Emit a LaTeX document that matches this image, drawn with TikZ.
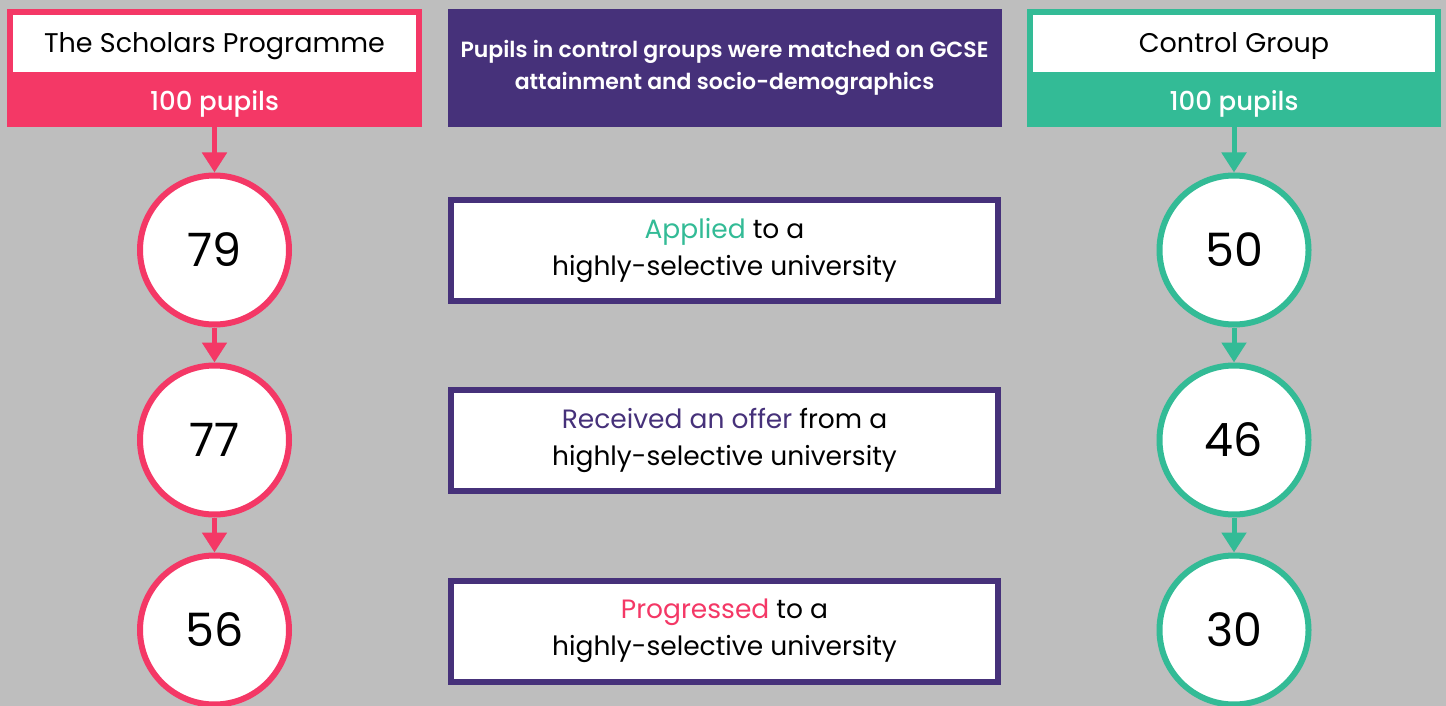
\documentclass[tikz,border=0pt]{standalone}
\usepackage{fontspec}
\setmainfont{Poppins}
\newfontfamily\semibold{Poppins SemiBold}
\newfontfamily\medium{Poppins Medium}
\usetikzlibrary{arrows.meta}

\definecolor{bgGray}{HTML}{BEBEBE}
\definecolor{schPink}{HTML}{F43866}
\definecolor{ctlGreen}{HTML}{33BB96}
\definecolor{midPurple}{HTML}{46317A}

\tikzset{
    panel/.style={rectangle, inner sep=0pt, minimum width=415pt, minimum height=118pt},
    titlebox/.style={rectangle, fill=white, inner sep=0pt, minimum width=403pt, minimum height=57pt,
        text height=19pt, text depth=0pt, font=\fontsize{27}{30}\selectfont},
    pupils/.style={text=white, inner sep=0pt, text height=19pt, text depth=0pt,
        font=\medium\fontsize{26}{28}\selectfont},
    count/.style={circle, fill=white, line width=6pt, minimum size=149pt, inner sep=0pt,
        font=\fontsize{46}{50}\selectfont},
    stage/.style={rectangle, draw=midPurple, fill=white, line width=6pt, minimum width=547pt,
        minimum height=101pt, align=center, font=\fontsize{26.5}{37}\selectfont},
    flow/.style={line width=5pt, -{Triangle[width=24pt,length=20pt]}}
}

\begin{document}
\begin{tikzpicture}[x=1pt, y=-1pt]
        % Background
        \useasboundingbox (0, 0) rectangle (1446, 706);
        \fill[bgGray] (0, 0) rectangle (1446, 706);

        % Nodes
        \node[panel, fill=schPink] (SchPanel) at (214.5, 68) {};
        \node[titlebox] (SchTitle) at (214.5, 43.5) {The Scholars Programme};
        \node[pupils] (SchPupils) at (214.5, 101) {100 pupils};

        \node[panel, fill=midPurple, minimum width=554pt] (MatchPanel) at (724.5, 68)
            {\parbox{554pt}{\centering\semibold\color{white}\fontsize{22}{32}\selectfont
            Pupils in control groups were matched on GCSE\\attainment and socio-demographics}};

        \node[panel, fill=ctlGreen, minimum width=414pt] (CtlPanel) at (1234, 68) {};
        \node[titlebox, minimum width=402pt] (CtlTitle) at (1234, 43.5) {Control Group};
        \node[pupils] (CtlPupils) at (1234, 101) {100 pupils};

        \node[count, draw=schPink] (SchApplied) at (214.5, 250) {79};
        \node[count, draw=schPink] (SchOffer) at (214.5, 440) {77};
        \node[count, draw=schPink] (SchProgress) at (214.5, 630) {56};

        \node[stage] (Applied) at (724.5, 250.5)
            {\textcolor{ctlGreen}{Applied} to a\\highly-selective university};
        \node[stage] (Offer) at (724.5, 440.5)
            {\textcolor{midPurple}{Received an offer} from a\\highly-selective university};
        \node[stage] (Progress) at (724.5, 631)
            {\textcolor{schPink}{Progressed} to a\\highly-selective university};

        \node[count, draw=ctlGreen] (CtlApplied) at (1234, 250) {50};
        \node[count, draw=ctlGreen] (CtlOffer) at (1234, 440) {46};
        \node[count, draw=ctlGreen] (CtlProgress) at (1234, 630) {30};

        % Arrows
        \draw[flow, schPink] (SchPanel) -- (SchApplied);
        \draw[flow, schPink] (SchApplied) -- (SchOffer);
        \draw[flow, schPink] (SchOffer) -- (SchProgress);
        \draw[flow, ctlGreen] (CtlPanel) -- (CtlApplied);
        \draw[flow, ctlGreen] (CtlApplied) -- (CtlOffer);
        \draw[flow, ctlGreen] (CtlOffer) -- (CtlProgress);
    \end{tikzpicture}
\end{document}
